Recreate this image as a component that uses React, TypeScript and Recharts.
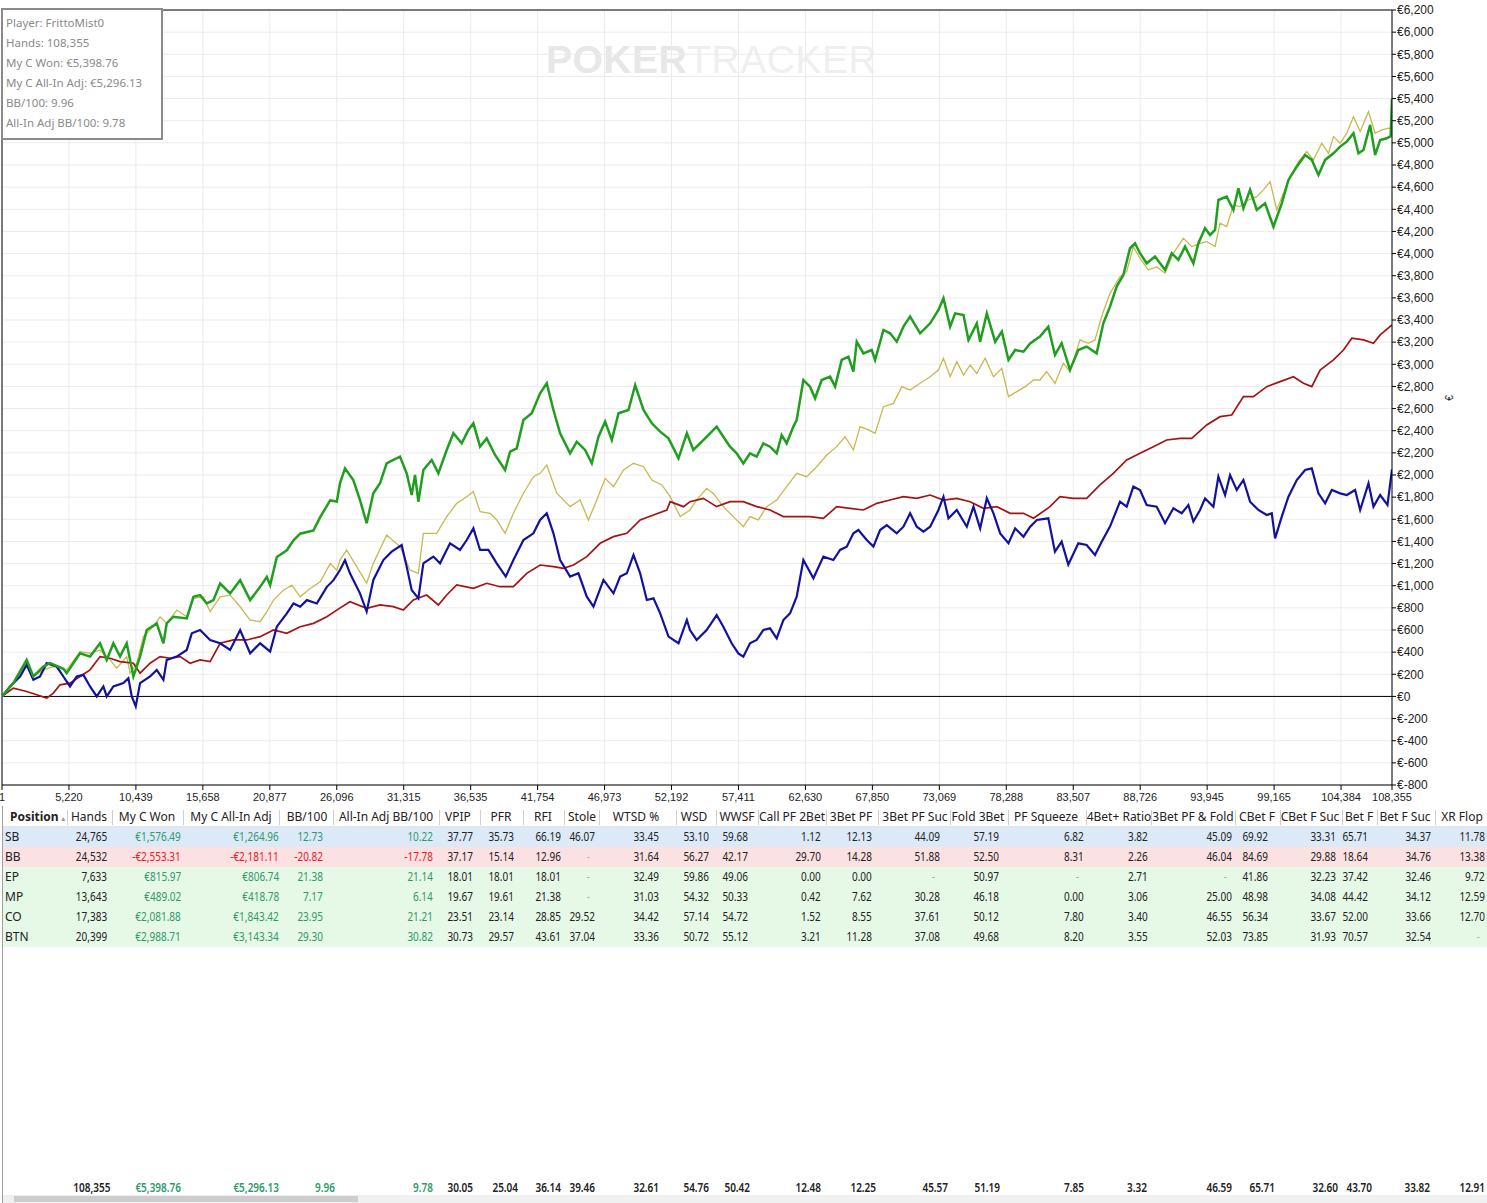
import React from 'react';
import { LineChart, Line, XAxis, YAxis, CartesianGrid, ReferenceLine } from 'recharts';

// ---------- chart data (hands, €) ----------
const xTicks = [1, 5220, 10439, 15658, 20877, 26096, 31315, 36535, 41754, 46973, 52192, 57411, 62630, 67850, 73069, 78288, 83507, 88726, 93945, 99165, 104384, 108355];
const yTicks = [-800, -600, -400, -200, 0, 200, 400, 600, 800, 1000, 1200, 1400, 1600, 1800, 2000, 2200, 2400, 2600, 2800, 3000, 3200, 3400, 3600, 3800, 4000, 4200, 4400, 4600, 4800, 5000, 5200, 5400, 5600, 5800, 6000, 6200];

const wonPoints: [number, number][] = [
  [1, 0], [884, 120], [1924, 330], [2444, 180], [3224, 270], [3744, 300], [4784, 250], [5044, 210], [6084, 390], [6864, 360], [7644, 480], [8164, 330], [8684, 480], [9204, 360], [9724, 480], [10244, 180], [10764, 360], [11284, 600], [12064, 660], [12584, 480], [12844, 660], [13364, 720], [14404, 705], [14924, 900], [15444, 915], [15964, 840], [16484, 870], [17004, 1020], [17784, 930], [18564, 1050], [19344, 870], [20124, 990], [20644, 1080], [20904, 1005], [21424, 1260], [22204, 1320], [22724, 1410], [23244, 1470], [24284, 1500], [24804, 1620], [25584, 1770], [26104, 1760], [26347, 1925], [26737, 2060], [27387, 1955], [27907, 1774], [28427, 1564], [28947, 1835], [29467, 1925], [29987, 2106], [30507, 2136], [31027, 2166], [31547, 2015], [31937, 1820], [32197, 2000], [32457, 1759], [32847, 2045], [33497, 2136], [34017, 2015], [34667, 2226], [35187, 2377], [35837, 2286], [36357, 2407], [36747, 2467], [37267, 2256], [37787, 2331], [38437, 2181], [39217, 2045], [39607, 2211], [40127, 2241], [40647, 2497], [41297, 2557], [41947, 2738], [42467, 2828], [42987, 2587], [43507, 2377], [44287, 2196], [44807, 2301], [45457, 2226], [45977, 2106], [46497, 2346], [47017, 2482], [47537, 2316], [48057, 2557], [48837, 2587], [49357, 2813], [50007, 2587], [50657, 2467], [51307, 2392], [51957, 2331], [52737, 2151], [53387, 2377], [53890, 2226], [54670, 2316], [55190, 2376], [55710, 2437], [56230, 2346], [56750, 2256], [57270, 2196], [57790, 2105], [58310, 2196], [58830, 2166], [59350, 2286], [59870, 2256], [60390, 2196], [60780, 2361], [61170, 2286], [61690, 2437], [61950, 2497], [62470, 2858], [62990, 2798], [63380, 2693], [63900, 2858], [64550, 2888], [64940, 2798], [65460, 3039], [65980, 3069], [66370, 2933], [66630, 3204], [67150, 3099], [67800, 3129], [68060, 3039], [68710, 3310], [69230, 3280], [69750, 3204], [70270, 3340], [70790, 3430], [71570, 3280], [72350, 3370], [73000, 3490], [73390, 3596], [73910, 3340], [74300, 3460], [74950, 3445], [75340, 3219], [75990, 3370], [76250, 3204], [76770, 3460], [77420, 3204], [77940, 3295], [78460, 3039], [78980, 3129], [79630, 3114], [80150, 3189], [80912, 3250], [81562, 3340], [82082, 3084], [82602, 3190], [83252, 2949], [83902, 3129], [84552, 3160], [85332, 3099], [85852, 3370], [86372, 3521], [86892, 3702], [87412, 3807], [87932, 4048], [88322, 4093], [88712, 4003], [89232, 3912], [89882, 3973], [90662, 3852], [91182, 4003], [91702, 3943], [92222, 4063], [92872, 3912], [93262, 4093], [93782, 4229], [94172, 4168], [94562, 4213], [94822, 4484], [95472, 4514], [95992, 4394], [96382, 4590], [96772, 4409], [97292, 4575], [97812, 4394], [98462, 4454], [99112, 4243], [99762, 4454], [100282, 4665], [100932, 4785], [101582, 4891], [102102, 4846], [102622, 4710], [103142, 4846], [103792, 4906], [104312, 4966], [104832, 5011], [105352, 5087], [105742, 4906], [106132, 4936], [106652, 5162], [107042, 4891], [107432, 5026], [107952, 5041], [108250, 5060], [108355, 5399],
];

const allInAdjPoints: [number, number][] = [
  [1, 0], [884, 120], [1924, 300], [2444, 180], [3224, 240], [4004, 270], [5044, 240], [6084, 405], [6864, 390], [7644, 420], [8424, 330], [8944, 255], [9724, 360], [9984, 210], [10504, 300], [11024, 540], [11804, 630], [12324, 720], [12844, 660], [13624, 780], [14404, 720], [14924, 885], [15704, 900], [16224, 765], [17004, 900], [17784, 915], [18564, 810], [19344, 690], [20124, 675], [20644, 765], [21164, 870], [21944, 960], [22594, 1005], [23244, 900], [24024, 975], [24804, 1035], [25584, 1200], [26104, 1140], [26347, 1232], [26867, 1323], [27647, 1172], [28427, 1022], [28947, 1202], [29987, 1458], [31027, 1353], [31807, 1142], [32457, 1112], [32847, 1473], [33887, 1473], [34667, 1624], [35447, 1744], [36227, 1804], [36747, 1850], [37267, 1669], [38047, 1654], [38567, 1594], [39217, 1473], [39867, 1654], [40647, 1835], [41427, 1985], [41947, 2015], [42467, 2090], [43247, 1835], [44287, 1714], [45067, 1774], [45717, 1594], [46367, 1774], [47017, 1970], [47667, 1895], [48447, 2045], [49227, 2106], [50007, 2075], [50657, 1955], [51437, 1910], [52087, 1804], [52867, 1624], [53630, 1684], [54150, 1774], [54930, 1880], [55450, 1834], [56230, 1714], [57010, 1624], [57790, 1533], [58310, 1624], [58960, 1594], [59610, 1714], [60390, 1774], [61170, 1895], [61950, 2015], [62730, 1985], [63510, 2075], [64290, 2181], [65070, 2256], [65720, 2346], [66370, 2226], [66890, 2437], [67540, 2407], [68060, 2376], [68710, 2617], [69490, 2647], [70140, 2798], [70790, 2768], [71570, 2828], [72350, 2888], [73000, 2948], [73390, 3054], [73910, 2888], [74430, 3024], [74950, 2903], [75470, 2993], [75990, 2918], [76640, 3054], [77290, 2888], [77940, 2963], [78460, 2708], [79110, 2753], [79760, 2798], [80410, 2858], [80912, 2858], [81432, 2934], [82082, 2828], [82732, 3009], [83252, 2934], [84032, 3220], [84682, 3190], [85202, 3220], [85722, 3431], [86372, 3641], [87152, 3792], [87672, 3837], [88192, 4063], [88712, 3957], [89362, 3852], [90012, 3882], [90662, 3822], [91312, 4003], [92092, 4138], [92742, 4063], [93392, 4093], [93912, 4108], [94562, 4063], [94952, 4274], [95472, 4244], [95992, 4439], [96512, 4424], [97162, 4484], [97812, 4514], [98332, 4575], [98852, 4650], [99372, 4394], [99892, 4545], [100412, 4695], [101062, 4831], [101712, 4921], [102232, 4846], [102882, 4996], [103402, 4906], [103792, 5056], [104312, 4996], [104832, 5087], [105352, 5237], [105872, 5102], [106522, 5282], [107042, 5087], [107562, 5117], [108082, 5132], [108355, 5130],
];

const showdownPoints: [number, number][] = [
  [1, 0], [624, 90], [1404, 180], [1924, 285], [2444, 150], [2964, 180], [3484, 300], [4264, 270], [4784, 180], [5304, 90], [5824, 180], [6344, 195], [6864, 90], [7384, 0], [7904, 90], [8164, 0], [8684, 90], [9464, 120], [9854, 165], [10114, 0], [10426, -90], [10764, 120], [11544, 180], [12064, 240], [12584, 150], [12844, 330], [13624, 360], [14404, 420], [14794, 570], [15444, 600], [16224, 510], [17004, 480], [17784, 420], [18564, 600], [19344, 390], [20124, 480], [20904, 405], [21424, 630], [22204, 750], [22724, 840], [23244, 810], [23764, 870], [24544, 840], [25324, 990], [25844, 1050], [26347, 1142], [26737, 1230], [27127, 1112], [27907, 931], [28427, 766], [28947, 1052], [29727, 1232], [30377, 1308], [31157, 1368], [31547, 1172], [31937, 961], [32457, 886], [32847, 1202], [33627, 1263], [34147, 1202], [34927, 1383], [35707, 1323], [36227, 1413], [36747, 1518], [37267, 1323], [37917, 1323], [38567, 1202], [39269, 1082], [39867, 1232], [40647, 1413], [41427, 1473], [41947, 1594], [42467, 1654], [42987, 1473], [43507, 1232], [44287, 1082], [44937, 1112], [45587, 901], [46107, 811], [46887, 1052], [47667, 931], [48187, 1082], [48707, 1112], [49227, 1278], [49747, 1112], [50267, 871], [50787, 886], [51307, 750], [51957, 540], [52737, 480], [53387, 691], [53630, 600], [54150, 510], [54930, 600], [55710, 735], [56230, 630], [56880, 480], [57400, 389], [57790, 359], [58310, 480], [58830, 510], [59350, 600], [59870, 615], [60390, 525], [60910, 690], [61430, 750], [61950, 901], [62470, 1232], [63250, 1067], [64030, 1263], [64810, 1232], [65330, 1323], [65850, 1353], [66370, 1473], [66760, 1503], [67410, 1413], [67930, 1353], [68450, 1503], [68970, 1548], [69750, 1473], [70270, 1533], [70790, 1654], [71310, 1533], [71830, 1488], [72350, 1533], [73000, 1684], [73390, 1804], [73780, 1609], [74430, 1684], [75210, 1533], [75730, 1714], [76250, 1518], [76770, 1789], [77290, 1654], [77810, 1473], [78460, 1383], [78980, 1518], [79630, 1443], [80150, 1533], [80670, 1594], [81562, 1609], [82082, 1308], [82602, 1398], [83122, 1190], [83902, 1383], [84552, 1368], [85202, 1278], [85722, 1398], [86372, 1534], [87152, 1759], [87672, 1714], [88192, 1895], [88712, 1865], [89232, 1729], [90012, 1714], [90662, 1564], [91312, 1699], [91962, 1654], [92482, 1729], [92872, 1579], [93392, 1684], [93782, 1789], [94432, 1714], [94822, 1985], [95342, 1819], [95732, 2000], [96252, 1865], [96772, 1955], [97292, 1759], [97942, 1684], [98592, 1639], [98982, 1654], [99242, 1428], [99762, 1624], [100282, 1804], [100932, 1955], [101582, 2045], [102102, 2060], [102622, 1834], [103142, 1744], [103662, 1865], [104312, 1834], [104832, 1819], [105482, 1865], [105872, 1684], [106522, 1925], [106912, 1714], [107432, 1819], [108004, 1729], [108355, 2050],
];

const nonShowdownPoints: [number, number][] = [
  [1, 0], [884, 75], [1924, 45], [2704, 15], [3484, -15], [4004, 30], [4524, 105], [5304, 120], [6084, 180], [6864, 240], [7644, 360], [8424, 345], [9204, 315], [10244, 300], [10764, 210], [11544, 300], [12324, 360], [13104, 345], [13884, 360], [14664, 300], [15444, 330], [16224, 315], [17004, 480], [18044, 510], [19084, 510], [20124, 540], [21164, 600], [22204, 570], [23244, 630], [24284, 660], [25324, 720], [26364, 800], [27127, 856], [28427, 796], [29467, 826], [30507, 811], [31287, 781], [32067, 871], [33107, 916], [34017, 826], [34667, 916], [35447, 1007], [36747, 976], [37787, 1022], [38827, 991], [39867, 991], [40907, 1112], [41947, 1187], [42987, 1172], [43767, 1157], [44547, 1187], [45587, 1263], [46627, 1383], [47667, 1443], [48707, 1473], [49747, 1594], [50787, 1639], [51827, 1684], [52087, 1759], [53127, 1714], [53630, 1759], [54670, 1789], [55710, 1714], [56750, 1759], [57790, 1759], [58830, 1714], [59870, 1684], [60910, 1624], [61950, 1624], [62990, 1624], [64030, 1609], [65070, 1714], [66110, 1699], [67150, 1684], [68190, 1744], [69230, 1774], [70270, 1804], [71310, 1789], [72350, 1819], [73390, 1774], [74430, 1789], [75470, 1759], [76510, 1699], [77550, 1714], [78590, 1654], [79630, 1654], [80410, 1609], [81692, 1714], [82472, 1804], [83512, 1789], [84552, 1789], [85592, 1910], [86632, 2015], [87672, 2136], [88712, 2196], [89752, 2256], [90792, 2316], [91832, 2331], [92742, 2331], [93912, 2452], [94952, 2527], [95862, 2542], [96772, 2708], [97552, 2708], [98592, 2798], [99632, 2843], [100672, 2888], [101452, 2828], [102102, 2798], [102752, 2948], [103792, 3039], [104572, 3129], [105222, 3235], [106132, 3220], [106912, 3190], [107432, 3265], [108355, 3355],
];

// ---------- info box text ----------
const infoLines = ['Player: FrittoMist0', 'Hands: 108,355', 'My C Won: €5,398.76', 'My C All-In Adj: €5,296.13', 'BB/100: 9.96', 'All-In Adj BB/100: 9.78'];

// ---------- table data ----------
const headers = ['Position', 'Hands', 'My C Won', 'My C All-In Adj', 'BB/100', 'All-In Adj BB/100', 'VPIP', 'PFR', 'RFI', 'Stole', 'WTSD %', 'WSD', 'WWSF', 'Call PF 2Bet', '3Bet PF', '3Bet PF Suc', 'Fold 3Bet', 'PF Squeeze', '4Bet+ Ratio', '3Bet PF & Fold', 'CBet F', 'CBet F Suc', 'Bet F', 'Bet F Suc', 'XR Flop'];
const positions = ['SB', 'BB', 'EP', 'MP', 'CO', 'BTN'];
const rowSB = ['24,765', '€1,576.49', '€1,264.96', '12.73', '10.22', '37.77', '35.73', '66.19', '46.07', '33.45', '53.10', '59.68', '1.12', '12.13', '44.09', '57.19', '6.82', '3.82', '45.09', '69.92', '33.31', '65.71', '34.37', '11.78'];
const rowBB = ['24,532', '-€2,553.31', '-€2,181.11', '-20.82', '-17.78', '37.17', '15.14', '12.96', '-', '31.64', '56.27', '42.17', '29.70', '14.28', '51.88', '52.50', '8.31', '2.26', '46.04', '84.69', '29.88', '18.64', '34.76', '13.38'];
const rowEP = ['7,633', '€815.97', '€806.74', '21.38', '21.14', '18.01', '18.01', '18.01', '-', '32.49', '59.86', '49.06', '0.00', '0.00', '-', '50.97', '-', '2.71', '-', '41.86', '32.23', '37.42', '32.46', '9.72'];
const rowMP = ['13,643', '€489.02', '€418.78', '7.17', '6.14', '19.67', '19.61', '21.38', '-', '31.03', '54.32', '50.33', '0.42', '7.62', '30.28', '46.18', '0.00', '3.06', '25.00', '48.98', '34.08', '44.42', '34.12', '12.59'];
const rowCO = ['17,383', '€2,081.88', '€1,843.42', '23.95', '21.21', '23.51', '23.14', '28.85', '29.52', '34.42', '57.14', '54.72', '1.52', '8.55', '37.61', '50.12', '7.80', '3.40', '46.55', '56.34', '33.67', '52.00', '33.66', '12.70'];
const rowBTN = ['20,399', '€2,988.71', '€3,143.34', '29.30', '30.82', '30.73', '29.57', '43.61', '37.04', '33.36', '50.72', '55.12', '3.21', '11.28', '37.08', '49.68', '8.20', '3.55', '52.03', '73.85', '31.93', '70.57', '32.54', '-'];
const rowTotal = ['108,355', '€5,398.76', '€5,296.13', '9.96', '9.78', '30.05', '25.04', '36.14', '39.46', '32.61', '54.76', '50.42', '12.48', '12.25', '45.57', '51.19', '7.85', '3.32', '46.59', '65.71', '32.60', '43.70', '33.82', '12.91'];
const tableRows = [rowSB, rowBB, rowEP, rowMP, rowCO, rowBTN];

// ---------- layout (pixels) ----------
const headerCenters = [0, 89, 147, 231, 307, 386, 458, 501, 543, 582, 636, 694, 737, 792, 851, 915, 978, 1046, 1119, 1193, 1257, 1310, 1359, 1405, 1462];
const headerSeps = [67, 112, 183, 279, 333, 439, 480, 523, 564, 599, 676, 716, 758, 826, 878, 950, 1008, 1086, 1151, 1235, 1280, 1342, 1377, 1435];
const valueRights = [107, 181, 279, 323, 433, 473, 514, 561, 595, 659, 709, 748, 821, 872, 940, 999, 1084, 1148, 1232, 1268, 1336, 1368, 1431, 1485];
const totalRights = [110, 181, 279, 335, 433, 473, 518, 561, 595, 659, 709, 750, 821, 876, 948, 1000, 1084, 1147, 1232, 1275, 1338, 1372, 1430, 1485];
const rowBgs = ['#dceaf8', '#fbe1e1', '#e6f8e6', '#e6f8e6', '#e6f8e6', '#e6f8e6'];

const toRows = (pts: [number, number][]) => pts.map(([h, v]) => ({ h, v }));

const fmtX = (v: number) => v.toLocaleString('en-US');
const fmtY = (v: number) => (v < 0 ? '€-' + Math.abs(v).toLocaleString('en-US') : '€' + v.toLocaleString('en-US'));

const tableFont = "'Noto Sans', 'Open Sans', sans-serif";
const axisFont = "'Liberation Sans', Arial, sans-serif";

function cellColor(col: number, text: string) {
  if (text === '-') return '#b0b0b0';
  if (col >= 1 && col <= 4) return text.startsWith('-') ? '#e8202a' : '#2e9a6c';
  return '#222';
}

const Num = ({ children }: { children: React.ReactNode }) => (
  <span style={{ display: 'inline-block', transform: 'scaleX(0.8)', transformOrigin: 'right center' }}>{children}</span>
);

export default function App() {
  return (
    <div style={{ position: 'absolute', left: 0, top: 0, width: 1487, height: 1203, background: '#fff', overflow: 'hidden' }}>
      {/* watermark */}
      <div style={{ position: 'absolute', left: 546, top: 38, fontFamily: axisFont, fontSize: 39, fontWeight: 'bold', color: '#e7e7e7', letterSpacing: 0.5, whiteSpace: 'nowrap' }}>
        POKER<span style={{ color: '#efefef', fontWeight: 'normal' }}>TRACKER</span>
      </div>

      <div style={{ position: 'absolute', left: 0, top: 0 }}>
        <LineChart width={1487} height={810} margin={{ top: 10, right: 0, bottom: 0, left: 2 }}>
          <CartesianGrid stroke="#ebebeb" />
          <XAxis
            dataKey="h"
            type="number"
            domain={[1, 108355]}
            ticks={xTicks}
            interval={0}
            tickFormatter={fmtX}
            height={25}
            axisLine={{ stroke: '#000' }}
            tickLine={{ stroke: '#000' }}
            tickSize={5}
            tickMargin={3}
            tick={{ fill: '#222', fontSize: 11, fontFamily: axisFont }}
            allowDataOverflow
          />
          <YAxis
            orientation="right"
            type="number"
            domain={[-800, 6200]}
            ticks={yTicks}
            interval={0}
            tickFormatter={fmtY}
            width={95}
            axisLine={{ stroke: '#000' }}
            tickLine={{ stroke: '#000' }}
            tickSize={4}
            tickMargin={1}
            tick={{ fill: '#222', fontSize: 12, fontFamily: axisFont }}
            allowDataOverflow
          />
          <ReferenceLine y={0} stroke="#000" strokeWidth={1} />
          <ReferenceLine y={6200} stroke="#000" strokeWidth={1} />
          <ReferenceLine x={1} stroke="#000" strokeWidth={1} />
          <Line data={toRows(allInAdjPoints)} dataKey="v" name="My C All-In Adj" type="linear" stroke="#c7b951" strokeWidth={1.3} dot={false} activeDot={false} isAnimationActive={false} />
          <Line data={toRows(nonShowdownPoints)} dataKey="v" name="Non-showdown" type="linear" stroke="#a51313" strokeWidth={1.7} dot={false} activeDot={false} isAnimationActive={false} />
          <Line data={toRows(showdownPoints)} dataKey="v" name="Showdown" type="linear" stroke="#12129e" strokeWidth={2.2} dot={false} activeDot={false} isAnimationActive={false} />
          <Line data={toRows(wonPoints)} dataKey="v" name="My C Won" type="linear" stroke="#1f9e1f" strokeWidth={2.5} dot={false} activeDot={false} isAnimationActive={false} />
        </LineChart>
      </div>

      {/* y axis title */}
      <div style={{ position: 'absolute', left: 1442, top: 390, width: 16, height: 16, fontFamily: axisFont, fontSize: 10, color: '#222', transform: 'rotate(-90deg)', textAlign: 'center', lineHeight: '16px' }}>€</div>

      {/* info box */}
      <div style={{ position: 'absolute', left: 1, top: 8, width: 158, height: 128, border: '2px solid #8a8a8a', background: '#fff', fontFamily: tableFont, fontSize: 11.5, color: '#8a8a8a' }}>
        {infoLines.map((t, i) => (
          <div key={i} style={{ position: 'absolute', left: 3, top: 3 + i * 20, height: 20, lineHeight: '20px', whiteSpace: 'nowrap' }}>{t}</div>
        ))}
      </div>

      {/* table */}
      <div style={{ position: 'absolute', left: 2, top: 806, width: 1, height: 397, background: '#a0a0a0' }} />
      {/* header */}
      <div style={{ position: 'absolute', left: 3, top: 808, width: 1484, height: 18, background: '#fff', borderBottom: '1px solid #e4e4e4' }} />
      <div style={{ position: 'absolute', left: 10, top: 808, height: 18, lineHeight: '18px', fontFamily: tableFont, fontSize: 12, fontWeight: 'bold', color: '#222', whiteSpace: 'nowrap' }}>
        {headers[0]}<span style={{ fontSize: 7, color: '#999', fontWeight: 'normal', marginLeft: 1 }}>▲</span>
      </div>
      {headers.slice(1).map((h, i) => (
        <div key={h} style={{ position: 'absolute', left: headerCenters[i + 1] - 60, width: 120, top: 808, height: 18, lineHeight: '18px', textAlign: 'center', fontFamily: tableFont, fontSize: 12, color: '#222', whiteSpace: 'nowrap' }}>{h}</div>
      ))}
      {headerSeps.map((x, i) => (
        <div key={'s' + i} style={{ position: 'absolute', left: x, top: 810, width: 1, height: 15, background: '#cfcfcf' }} />
      ))}

      {/* rows */}
      {tableRows.map((row, r) => (
        <React.Fragment key={positions[r]}>
          <div style={{ position: 'absolute', left: 3, top: 827 + r * 20, width: 1484, height: 20, background: rowBgs[r] }} />
          <div style={{ position: 'absolute', left: 5, top: 827 + r * 20, height: 20, lineHeight: '20px', fontFamily: tableFont, fontSize: 12, color: '#222' }}>{positions[r]}</div>
          {row.map((val, c) => (
            <div key={c} style={{ position: 'absolute', left: valueRights[c] - 100 - (val === '-' ? 5 : 0), width: 100, top: 827 + r * 20, height: 20, lineHeight: '20px', textAlign: 'right', fontFamily: tableFont, fontSize: 12.5, color: cellColor(c, val), whiteSpace: 'nowrap' }}><Num>{val}</Num></div>
          ))}
        </React.Fragment>
      ))}

      {/* totals */}
      {rowTotal.map((val, c) => (
        <div key={'t' + c} style={{ position: 'absolute', left: totalRights[c] - 100, width: 100, top: 1178, height: 20, lineHeight: '20px', textAlign: 'right', fontFamily: tableFont, fontSize: 12.5, fontWeight: 600, color: cellColor(c, val), whiteSpace: 'nowrap' }}><Num>{val}</Num></div>
      ))}

      {/* scrollbar */}
      <div style={{ position: 'absolute', left: 3, top: 1195, width: 1484, height: 8, background: '#f0f0f0' }} />
      <div style={{ position: 'absolute', left: 14, top: 1196, width: 344, height: 6, background: '#cdcdcd' }} />
    </div>
  );
}
